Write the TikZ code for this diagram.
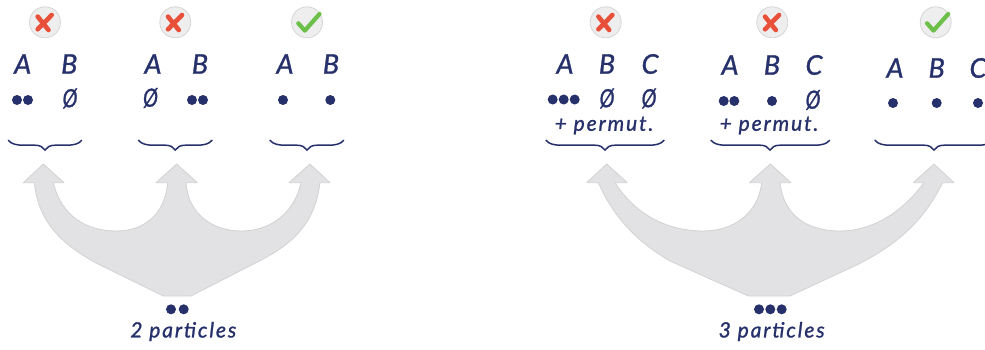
\documentclass[tikz,border=0pt]{standalone}
\usepackage{fontspec}
\setmainfont{Lato}[ItalicFont=Lato Italic]
\newfontfamily\hand[FakeBold=1.2]{Lato Italic}
\newfontfamily\handwide[LetterSpace=9,FakeBold=1.2]{Lato Italic}
\definecolor{navy}{HTML}{26306B}
\definecolor{armfill}{HTML}{E2E2E4}
\definecolor{armline}{HTML}{D2D2D2}
\definecolor{iconfill}{HTML}{EEEEEE}
\definecolor{iconline}{HTML}{D6D6D6}
\definecolor{crossred}{HTML}{E8503A}
\definecolor{tickgreen}{HTML}{6CC04A}
\tikzset{
  letter/.style={text=navy,font=\hand\fontsize{27}{27}\selectfont,inner sep=0pt},
  empty/.style={text=navy,font=\hand\fontsize{25}{25}\selectfont,inner sep=0pt,xscale=0.8},
  caption/.style={text=navy,font=\handwide\fontsize{21}{21}\selectfont,inner sep=0pt},
  particle/.style={circle,fill=navy,inner sep=0pt,minimum size=10pt},
  icon/.style={circle,fill=iconfill,draw=iconline,line width=0.8pt,inner sep=0pt,minimum size=31pt},
  crossmark/.style={draw=crossred,line width=4.6pt,line cap=round},
  tickmark/.style={draw=tickgreen,line width=4.2pt,line cap=round,line join=round},
  bracestroke/.style={draw=navy,line width=1.5pt,line cap=round},
  arm/.style={fill=armfill,draw=armline,line width=0.8pt,line join=round},
}
\usetikzlibrary{calc}
\newcommand\crossicon[3]{%
  \node[icon] (#1) at (#2,#3) {};
  \draw[crossmark] ($(#1)+(-7.3,-5.7)$) -- ($(#1)+(3.5,7.7)$);
  \draw[crossmark] ($(#1)+(6.7,-7.3)$) -- ($(#1)+(-7.3,7)$);}
\newcommand\tickicon[3]{%
  \node[icon] (#1) at (#2,#3) {};
  \draw[tickmark] ($(#1)+(-8.7,1)$) -- ($(#1)+(-2.2,8.3)$) -- ($(#1)+(12.5,-8.3)$);}
\newcommand\cbrace[3]{% left, tip, right
  \draw[bracestroke] (#1,140.3) .. controls (#1+3,144) and (#1+8,145.2) .. (#1+15,145.2)
    -- (#2-10,145.2) .. controls (#2-5,145.2) and (#2-2,147) .. (#2,150)
    .. controls (#2+2,147) and (#2+5,145.2) .. (#2+10,145.2)
    -- (#3-15,145.2) .. controls (#3-8,145.2) and (#3-3,144) .. (#3,140.3);}
\begin{document}
\begin{tikzpicture}[x=1pt,y=-1pt]
\useasboundingbox (0,0) rectangle (985,349);
% left fork, in 3x zoom coordinates
\draw[arm,shift={(0pt,-160pt)},x=0.33333pt,y=-0.33333pt]
  (490,408) -- (573,408)
  -- (780,302) .. controls (880,250) and (945,190) .. (960,68)
  -- (990,68) -- (930,12) -- (867,68) -- (903,68)
  .. controls (880,170) and (800,213) .. (725,213)
  .. controls (640,213) and (565,165) .. (558,68)
  -- (592,68) -- (530,12) -- (468,68) -- (503,68)
  .. controls (495,165) and (430,213) .. (350,213)
  .. controls (260,213) and (185,170) .. (160,68)
  -- (192,68) -- (130,12) -- (70,68) -- (103,68)
  .. controls (115,190) and (190,255) .. (290,310)
  -- cycle;
% right fork
\draw[arm,shift={(570pt,-160pt)},x=0.33333pt,y=-0.33333pt]
  (535,408) -- (660,408)
  -- (860,315) .. controls (980,255) and (1060,185) .. (1118,68)
  -- (1152,68) -- (1092,12) -- (1030,68) -- (1062,68)
  .. controls (990,165) and (900,213) .. (810,213)
  .. controls (710,213) and (640,165) .. (630,68)
  -- (663,68) -- (601,12) -- (538,68) -- (575,68)
  .. controls (565,160) and (490,213) .. (400,213)
  .. controls (300,213) and (200,170) .. (135,68)
  -- (172,68) -- (110,12) -- (50,68) -- (85,68)
  .. controls (130,170) and (200,245) .. (300,303)
  -- cycle;
% icons
\crossicon{i1}{45}{22.3}
\crossicon{i2}{175.3}{22.3}
\tickicon{i3}{307}{22.3}
\crossicon{i4}{605.7}{22.3}
\crossicon{i5}{772.3}{22.3}
\tickicon{i6}{935.7}{22.3}
% 2-particle columns
\node[letter] (a1) at (22.7,64) {A};
\node[letter] (b1) at (69.3,64) {B};
\node[particle] (p1) at (17,100) {};
\node[particle] (p2) at (28,100) {};
\node[empty] (e1) at (70,98.5) {Ø};
\node[letter] (a2) at (153,64) {A};
\node[letter] (b2) at (200,64) {B};
\node[empty] (e2) at (150.5,98) {Ø};
\node[particle] (p3) at (192,100) {};
\node[particle] (p4) at (203,100) {};
\node[letter] (a3) at (285,64) {A};
\node[letter] (b3) at (331,64) {B};
\node[particle] (p5) at (283,100) {};
\node[particle] (p6) at (330.3,100) {};
\cbrace{8.3}{45}{81.7}
\cbrace{138.5}{175.3}{212}
\cbrace{270}{307}{343.7}
% 3-particle columns
\node[letter] (a4) at (565,64) {A};
\node[letter] (b4) at (607,64) {B};
\node[letter] (c4) at (650,64) {C};
\node[particle] (p7) at (552.7,99.5) {};
\node[particle] (p8) at (563.7,99.5) {};
\node[particle] (p9) at (574.7,99.5) {};
\node[empty] (e3) at (607,98.5) {Ø};
\node[empty] (e4) at (649,98.5) {Ø};
\node[caption] (m1) at (604,125.5) {+ permut.};
\node[letter] (a5) at (730,65) {A};
\node[letter] (b5) at (772,65) {B};
\node[letter] (c5) at (814,65) {C};
\node[particle] (p10) at (723.7,101) {};
\node[particle] (p11) at (734.3,101) {};
\node[particle] (p12) at (772,101) {};
\node[empty] (e5) at (813,100) {Ø};
\node[caption] (m2) at (769,125.5) {+ permut.};
\node[letter] (a6) at (895,68) {A};
\node[letter] (b6) at (936.7,68) {B};
\node[letter] (c6) at (978,68) {C};
\node[particle] (p13) at (893,103) {};
\node[particle] (p14) at (936.7,103) {};
\node[particle] (p15) at (978,103) {};
\cbrace{546}{605}{664}
\cbrace{711}{770}{829.6}
\cbrace{875}{934}{993}
% bottom labels
\node[particle] (p16) at (171,309.3) {};
\node[particle] (p17) at (183.7,309.3) {};
\node[caption] (t1) at (183.3,331.5) {2 particles};
\node[particle] (p18) at (759,309.3) {};
\node[particle] (p19) at (770.3,309.3) {};
\node[particle] (p20) at (781.7,309.3) {};
\node[caption] (t2) at (771.7,331.5) {3 particles};
\end{tikzpicture}
\end{document}
